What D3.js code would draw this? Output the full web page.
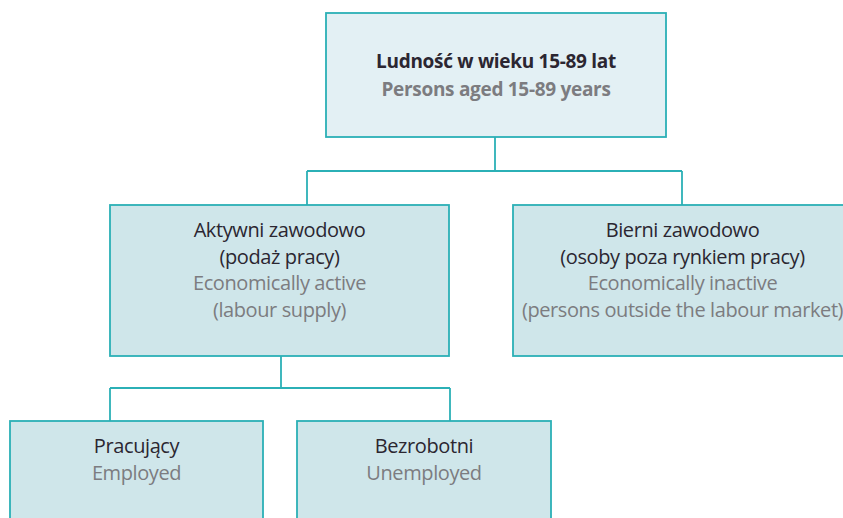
<!DOCTYPE html>
<html lang="en">

<head>
  <meta charset="utf-8" />
  <title>Ludność w wieku 15-89 lat</title>
  <script src="https://d3js.org/d3.v7.min.js"></script>
  <style>
    body { margin: 0; background: #fff; }
    svg { display: block; }
    .pl { fill: #2b2631; }
    .en { fill: #7c7c80; }
  </style>
</head>

<body>
  <script>
    // labels of each box, polish line(s) and english line(s)
    var nodeIds = ["root", "active", "inactive", "employed", "unemployed"];
    var parentIds = ["", "root", "root", "active", "active"];
    var polishLabels = [
      ["Ludność w wieku 15-89 lat"],
      ["Aktywni zawodowo", "(podaż pracy)"],
      ["Bierni zawodowo", "(osoby poza rynkiem pracy)"],
      ["Pracujący"],
      ["Bezrobotni"]
    ];
    var englishLabels = [
      ["Persons aged 15-89 years"],
      ["Economically active", "(labour supply)"],
      ["Economically inactive", "(persons outside the labour market)"],
      ["Employed"],
      ["Unemployed"]
    ];

    var svg_width = 843;
    var svg_height = 518;

    // box placement (layout only)
    var boxes = {
      root:       { x: 326, y: 13,  w: 340, h: 124, fill: "#e3f0f4", bold: true,  textTop: 68,  lineH: 27.5, size: 19, ls: -0.3, link: 495 },
      active:     { x: 110, y: 205, w: 339, h: 151, fill: "#cfe6ea", bold: false, textTop: 237, lineH: 26.5, size: 20, ls: -0.4, link: 307, down: 281 },
      inactive:   { x: 513, y: 205, w: 339, h: 151, fill: "#cfe6ea", bold: false, textTop: 237, lineH: 26.5, size: 20, ls: -0.4, link: 682 },
      employed:   { x: 10,  y: 421, w: 253, h: 120, fill: "#cfe6ea", bold: false, textTop: 453, lineH: 27, size: 20, ls: -0.4, link: 110 },
      unemployed: { x: 297, y: 421, w: 254, h: 120, fill: "#cfe6ea", bold: false, textTop: 453, lineH: 27, size: 20, ls: -0.4, link: 450 }
    };
    var barY = { root: 171, active: 388 };

    var table = nodeIds.map(function (id, i) {
      return { id: id, parentId: parentIds[i] || null, pl: polishLabels[i], en: englishLabels[i] };
    });
    var root = d3.stratify()
      .id(function (d) { return d.id; })
      .parentId(function (d) { return d.parentId; })(table);

    var svg = d3.select("body").append("svg")
      .attr("width", svg_width)
      .attr("height", svg_height);

    var stroke = "#2bb0b6";

    // connectors: parent stem, horizontal bar, child stems
    var links = svg.append("g")
      .attr("fill", "none")
      .attr("stroke", stroke)
      .attr("stroke-width", 1.8);

    root.descendants().filter(function (n) { return n.children; }).forEach(function (n) {
      var b = boxes[n.id];
      var stemX = b.down !== undefined ? b.down : b.link;
      var yBar = barY[n.id];
      var xs = n.children.map(function (c) { return boxes[c.id].link; });
      links.append("path").attr("d", d3.line()([[stemX, b.y + b.h], [stemX, yBar]]));
      links.append("path").attr("d", d3.line()([[d3.min(xs), yBar], [d3.max(xs), yBar]]));
      n.children.forEach(function (c) {
        var cb = boxes[c.id];
        links.append("path").attr("d", d3.line()([[cb.link, yBar], [cb.link, cb.y]]));
      });
    });

    var node = svg.selectAll("g.node")
      .data(root.descendants())
      .join("g")
      .attr("class", "node");

    node.append("rect")
      .attr("x", function (d) { return boxes[d.id].x; })
      .attr("y", function (d) { return boxes[d.id].y; })
      .attr("width", function (d) { return boxes[d.id].w; })
      .attr("height", function (d) { return boxes[d.id].h; })
      .attr("fill", function (d) { return boxes[d.id].fill; })
      .attr("stroke", stroke)
      .attr("stroke-width", 1.8);

    node.each(function (d) {
      var b = boxes[d.id];
      var lines = d.data.pl.map(function (t) { return { t: t, c: "pl" }; })
        .concat(d.data.en.map(function (t) { return { t: t, c: "en" }; }));
      d3.select(this).selectAll("text")
        .data(lines)
        .join("text")
        .attr("class", function (l) { return l.c; })
        .attr("x", b.x + b.w / 2)
        .attr("y", function (l, i) { return b.textTop + i * b.lineH; })
        .attr("text-anchor", "middle")
        .attr("font-family", "'Open Sans', sans-serif")
        .attr("font-size", b.size)
        .attr("font-weight", b.bold ? "bold" : "normal")
        .attr("letter-spacing", b.ls)
        .text(function (l) { return l.t; });
    });
  </script>
</body>

</html>
